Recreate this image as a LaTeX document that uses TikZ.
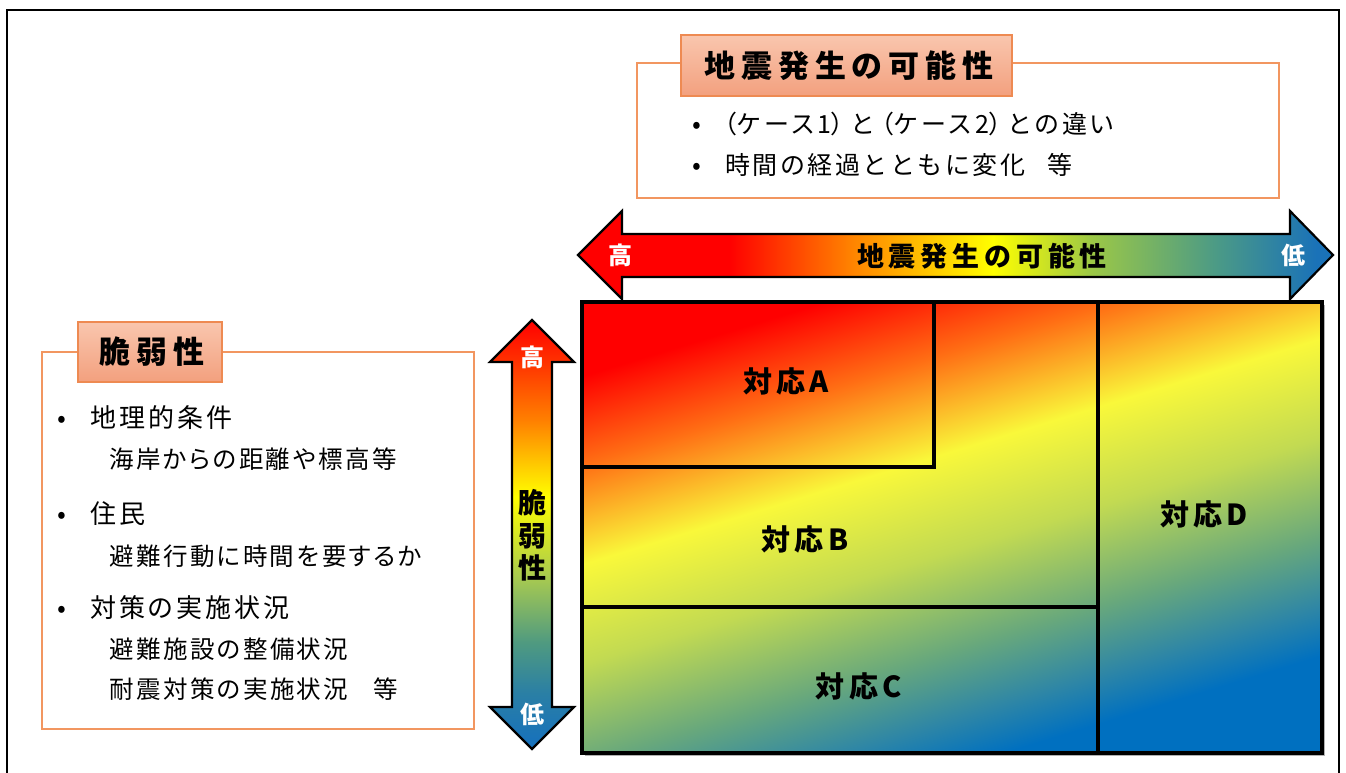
\documentclass[tikz,border=0pt]{standalone}
\usepackage{fontspec}
\setmainfont{Noto Sans CJK JP}
\newfontfamily\jp[LetterSpace=10]{Noto Sans CJK JP}
\newfontfamily\jpl[LetterSpace=12,RawFeature=+palt]{Noto Sans CJK JP}
\newfontfamily\jps[LetterSpace=10,RawFeature=+palt]{Noto Sans CJK JP}
\newfontfamily\jpP[LetterSpace=10,RawFeature=+palt]{Noto Sans CJK JP}
\newfontfamily\jpt[LetterSpace=19]{Noto Sans CJK JP}
\newfontfamily\jpa[LetterSpace=18]{Noto Sans CJK JP}
\newfontfamily\jpc[LetterSpace=15]{Noto Sans CJK JP}
\newcommand\lp{\kern6pt{\jpP（}}
\newcommand\rp{{\jpP）}\kern6pt}
\definecolor{obox}{HTML}{F29660}
\definecolor{ttop}{HTML}{F9C6AE}
\definecolor{tbot}{HTML}{F3A07E}
\definecolor{tborder}{HTML}{EE8A52}
% horizontal arrow colours
\definecolor{hR}{HTML}{FF0000}
\definecolor{hO}{HTML}{FF8000}
\definecolor{hY}{HTML}{FFFF00}
\definecolor{hYG}{HTML}{9CC846}
\definecolor{hT}{HTML}{4B9A86}
\definecolor{hB}{HTML}{1A72B8}
% vertical arrow colours
\definecolor{vB}{HTML}{1570BE}
\definecolor{vTB}{HTML}{2A7FA5}
\definecolor{vGT}{HTML}{4F9A80}
\definecolor{vYG}{HTML}{A8CA50}
\definecolor{vY}{HTML}{FFFF00}
\definecolor{vO}{HTML}{FF8000}
\definecolor{vRO}{HTML}{FF3000}
\definecolor{vR}{HTML}{FF0000}
% grid colours
\definecolor{gR}{HTML}{FF0000}
\definecolor{gO}{HTML}{FF6E14}
\definecolor{gY}{HTML}{F9F83A}
\definecolor{gYG}{HTML}{C2DA52}
\definecolor{gG}{HTML}{68A87C}
\definecolor{gT}{HTML}{2E86A6}
\definecolor{gB}{HTML}{0070C0}
\pgfdeclarehorizontalshading{harrowshade}{100bp}{color(0bp)=(hR); color(35bp)=(hR); color(42.9bp)=(hO); color(52.5bp)=(hY); color(59bp)=(hYG); color(67.3bp)=(hT); color(73.9bp)=(hB); color(100bp)=(hB)}
\pgfdeclareverticalshading{varrowshade}{100bp}{color(0bp)=(vB); color(25bp)=(vB); color(31.5bp)=(vTB); color(37.4bp)=(vGT); color(45bp)=(vYG); color(54.4bp)=(vY); color(63.3bp)=(vO); color(70.3bp)=(vRO); color(75bp)=(vR); color(100bp)=(vR)}
\pgfdeclarehorizontalshading{gridshade}{100bp}{color(0bp)=(gR); color(35.4bp)=(gR); color(40.3bp)=(gO); color(45.8bp)=(gY); color(51.3bp)=(gYG); color(56.8bp)=(gG); color(60.6bp)=(gT); color(63.3bp)=(gB); color(100bp)=(gB)}
\begin{document}
\begin{tikzpicture}[x=1pt,y=-1pt,
  outerbox/.style={draw=obox,line width=1.8pt},
  titlebox/.style={top color=ttop,bottom color=tbot,draw=tborder,line width=1.5pt},
  titletext/.style={inner sep=0,font=\jpt\bfseries\fontsize{31}{36}\selectfont},
  bul/.style={inner sep=0,font=\jp\fontsize{26}{30}\selectfont,text height=20.8pt,text depth=1.3pt},
  item/.style={anchor=west,inner sep=0,font=\jpl\fontsize{26}{30}\selectfont,text height=20.8pt,text depth=1.3pt},
  subitem/.style={anchor=west,inner sep=0,font=\jps\fontsize{24.5}{30}\selectfont,text height=19.6pt,text depth=1.2pt},
  itemt/.style={anchor=west,inner sep=0,font=\jp\fontsize{25}{30}\selectfont,text height=20pt,text depth=1.25pt},
  arrowtxt/.style={inner sep=0,font=\jpa\bfseries\fontsize{27}{30}\selectfont,text height=21.6pt,text depth=1.35pt},
  hilo/.style={inner sep=0,text=white,font=\jp\bfseries\fontsize{24}{28}\selectfont,text height=19.2pt,text depth=1.2pt},
  vtxt/.style={inner sep=0,font=\jp\bfseries\fontsize{28}{30}\selectfont,text height=22.4pt,text depth=1.4pt},
  cell/.style={inner sep=0,font=\jpc\bfseries\fontsize{29}{32}\selectfont,text height=23.2pt,text depth=1.45pt},
  gridline/.style={line width=3.2pt,line cap=rect}]
\useasboundingbox (0,0) rectangle (1346,772);
\fill[white] (0,0) rectangle (1346,772);
% outer frame
\draw[line width=2.2pt] (7,776) -- (7,10) -- (1339,10) -- (1339,776);

% ---- top box
\draw[outerbox] (637,63) rectangle (1279,198);
\shade[titlebox] (681,35) rectangle (1012,96);
\node[titletext] (ttl1) at (849,65.5) {地震発生の可能性};
\node[bul] (tb1) at (697,124) {•};
\node[itemt] (tl1) at (718,124) {\lp ケース1\rp と\lp ケース2\rp との違い};
\node[bul] (tb2) at (697,165) {•};
\node[itemt] (tl2) at (725,165) {時間の経過とともに変化\hspace{22pt}等};

% ---- left box
\draw[outerbox] (42,352) rectangle (474,729);
\shade[titlebox] (78,322) rectangle (222,382);
\node[titletext] (ttl2) at (152,352) {脆弱性};
\node[bul] (lb1) at (62,418) {•};
\node[item] (ll1) at (90,418) {地理的条件};
\node[subitem] (ll2) at (109,459) {海岸からの距離や標高等};
\node[bul] (lb2) at (62,514) {•};
\node[item] (ll3) at (90,514) {住民};
\node[subitem] (ll4) at (109,556) {避難行動に時間を要するか};
\node[bul] (lb3) at (62,608) {•};
\node[item] (ll5) at (90,608) {対策の実施状況};
\node[subitem] (ll6) at (109,649) {避難施設の整備状況};
\node[subitem] (ll7) at (109,689) {耐震対策の実施状況\hspace{25pt}等};

% ---- horizontal arrow
\shade[shading=harrowshade,draw=black,line width=2.2pt,line join=miter]
  (578,255) -- (622,211) -- (622,234) -- (1290,234) -- (1290,211) -- (1333,255)
  -- (1290,299) -- (1290,277) -- (622,277) -- (622,299) -- cycle;
\node[hilo] (hh) at (620,255) {高};
\node[hilo] (hl) at (1293,255) {低};
\node[arrowtxt] (hlab) at (982,256) {地震発生の可能性};

% ---- vertical arrow
\shade[shading=varrowshade,draw=black,line width=2.2pt,line join=miter]
  (532,320) -- (574,362) -- (552,362) -- (552,707) -- (574,707) -- (532,749)
  -- (490,707) -- (512,707) -- (512,362) -- (490,362) -- cycle;
\node[hilo] (vh) at (532,357) {高};
\node[hilo] (vl) at (532,714) {低};
\node[vtxt] (v1) at (532,503) {脆};
\node[vtxt] (v2) at (532,536) {弱};
\node[vtxt] (v3) at (532,568) {性};

% ---- grid
\fill[black!30] (585,305) rectangle (1325,756);
\begin{scope}
  \clip (582,302) rectangle (1322,753);
  \shade[shading=gridshade,shading angle=-73] (517,92.5) rectangle (1387,962.5);
\end{scope}
\draw[gridline] (934,302) -- (934,467) -- (582,467);
\draw[gridline] (582,607) -- (1098,607);
\draw[gridline] (1098,302) -- (1098,753);
\draw[line width=4pt] (582,302) rectangle (1322,753);
\node[cell] (ca) at (786,382) {対応A};
\node[cell] (cb) at (805,540) {対応B};
\node[cell] (cc) at (859,687) {対応C};
\node[cell] (cd) at (1204,515) {対応D};
\end{tikzpicture}
\end{document}
